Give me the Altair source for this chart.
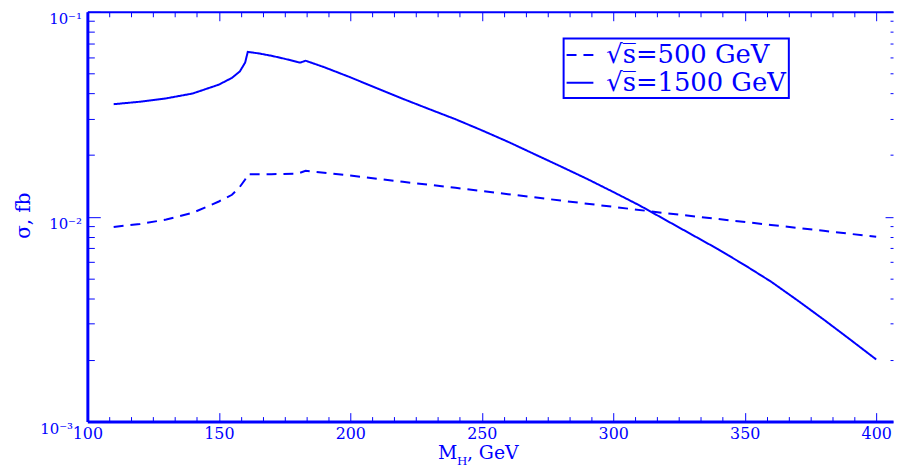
import altair as alt
import pandas as pd

# ---- data ----
M_500 = [110, 120, 130, 140, 150, 155, 158, 160, 161, 170, 180, 183, 200, 220, 240,
         260, 280, 300, 320, 340, 360, 380, 400]
SIG_500 = [0.00891, 0.00921, 0.00968, 0.01044, 0.01186, 0.01279, 0.01399, 0.01518,
           0.01613, 0.01613, 0.01622, 0.01675, 0.01588, 0.01480, 0.01383, 0.01288,
           0.01199, 0.01117, 0.01040, 0.00974, 0.00911, 0.00853, 0.00798]

M_1500 = [110, 120, 130, 140, 150, 155, 158, 160, 161, 165, 170, 175, 180, 181, 183,
          190, 200, 210, 220, 230, 240, 250, 260, 270, 280, 290, 300, 310, 320, 330,
          340, 350, 360, 370, 380, 390, 400]
SIG_1500 = [0.0354, 0.0364, 0.0378, 0.0399, 0.0441, 0.0476, 0.0512, 0.0565, 0.0637,
            0.0627, 0.0610, 0.0590, 0.0568, 0.0565, 0.0577, 0.0537, 0.0479, 0.0424,
            0.0376, 0.0335, 0.0299, 0.0264, 0.0232, 0.0202, 0.0176, 0.0153, 0.0132,
            0.01135, 0.00962, 0.00816, 0.00692, 0.00580, 0.00482, 0.00391, 0.00315,
            0.00252, 0.00201]

SERIES = ["\u221as\u0305=500 GeV", "\u221as\u0305=1500 GeV"]

X_MAJOR = [100, 150, 200, 250, 300, 350, 400]
X_MINOR = [round(100 + k * 50 / 6, 3) for k in range(37) if k % 6 != 0]
Y_MAJOR = [0.001, 0.01, 0.1]
Y_MINOR = [round(m * d, 5) for d in (0.001, 0.01) for m in range(2, 10)]

BLUE = "#0000ff"
SERIF = "DejaVu Serif"

df = pd.concat([
    pd.DataFrame({"M": M_500, "sigma": SIG_500, "series": SERIES[0]}),
    pd.DataFrame({"M": M_1500, "sigma": SIG_1500, "series": SERIES[1]}),
])

xs = alt.Scale(domain=[100, 406.4], nice=False, zero=False)
ys = alt.Scale(type="log", domain=[0.001, 0.1], nice=False)

common = dict(grid=False, tickColor=BLUE, domainColor=BLUE, labelColor=BLUE,
              titleColor=BLUE, titleFont=SERIF, titleFontWeight="normal", tickWidth=1)


def tick_axis(orient, values, size, offset, **kw):
    return alt.Axis(orient=orient, values=values, tickSize=size, offset=offset,
                    labels=False, domain=False, **{**common, **kw})


# main layer: the two curves, labels, titles, left/bottom frame
lines = alt.Chart(df).mark_line(strokeWidth=2, color=BLUE).encode(
    x=alt.X("M:Q", scale=xs, axis=alt.Axis(
        orient="bottom", values=X_MAJOR, ticks=False, tickSize=0, domain=True,
        domainWidth=3, labelFont=SERIF, labelFontSize=16, labelPadding=4,
        labelFlush=False, labelOverlap=False,
        title="M", titleFontSize=19, titleX=353, titleY=37, titleAlign="left",
        titleBaseline="alphabetic", **common)),
    y=alt.Y("sigma:Q", scale=ys, axis=alt.Axis(
        orient="left", values=Y_MAJOR, ticks=False, tickSize=0, domain=True,
        domainWidth=3, labelFont=SERIF, labelFontSize=15,
        labelPadding={"expr": "datum.value < 0.005 ? 15 : 6"},
        labelBaseline="top", labelOffset=0, labelFlush=False, labelOverlap=False,
        labelExpr="datum.value > 0.05 ? '10\u207b\u00b9' : datum.value > 0.005 ? '10\u207b\u00b2' : '10\u207b\u00b3'",
        title="\u03c3, fb", titleFontSize=20, titleX=-58, titleY=205, titleAngle=270,
        titleAlign="center", titleBaseline="alphabetic", **common)),
    strokeDash=alt.StrokeDash("series:N", scale=alt.Scale(domain=SERIES, range=[[10, 7], [1, 0]]),
                              legend=alt.Legend(
                                  title=None, orient="none", legendX=480, legendY=27,
                                  strokeColor=BLUE, padding=2, labelFont=SERIF,
                                  labelFontSize=26, labelColor=BLUE, labelLimit=400,
                                  labelOffset=12, symbolType="stroke", symbolSize=729,
                                  symbolStrokeWidth=2, symbolStrokeColor=BLUE,
                                  rowPadding=-7)),
)


def ghost(xaxis, yaxis):
    return alt.Chart(df).mark_line(strokeOpacity=0).encode(
        x=alt.X("M:Q", scale=xs, axis=xaxis),
        y=alt.Y("sigma:Q", scale=ys, axis=yaxis),
    )


sub_h = ghost(
    tick_axis("bottom", X_MAJOR, 9, -9, title="H", titleFontSize=12, titleX=372,
              titleY=52, titleAlign="left", titleBaseline="alphabetic"),
    tick_axis("left", Y_MAJOR, 13, -13, title=None),
)
gev = ghost(
    tick_axis("bottom", X_MINOR, 5, -5, title=", GeV", titleFontSize=19, titleX=382,
              titleY=42, titleAlign="left", titleBaseline="alphabetic"),
    tick_axis("left", Y_MINOR, 7, -7, title=None),
)
top_major = ghost(
    tick_axis("top", X_MAJOR, 9, -9, title=None),
    tick_axis("right", Y_MAJOR, 8, -8, title=None),
)
top_minor = ghost(
    tick_axis("top", X_MINOR, 5, -5, title=None),
    tick_axis("right", Y_MINOR, 3, -3, title=None),
)
top_frame = ghost(
    alt.Axis(orient="top", ticks=False, labels=False, domain=True, domainWidth=2,
             title=None, **common),
    None,
)

chart = alt.layer(lines, sub_h, gev, top_major, top_minor, top_frame).resolve_scale(
    x="independent", y="independent"
).properties(
    width=812, height=413,
    padding={"left": 80, "top": 2, "right": 2, "bottom": 48},
    autosize=alt.AutoSizeParams(type="none"),
).configure_view(stroke=None).configure_legend(strokeWidth=2)

chart.save("out.html", embed_options={"renderer": "svg", "actions": False})
